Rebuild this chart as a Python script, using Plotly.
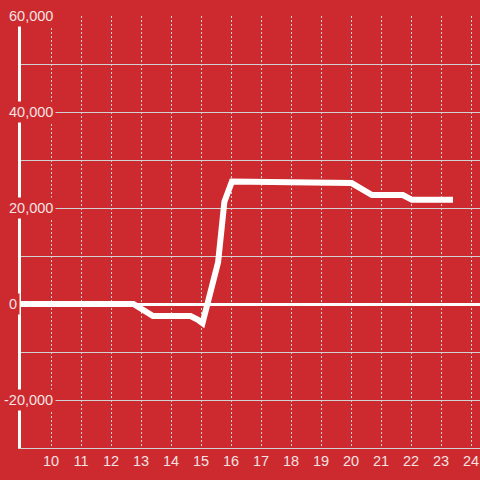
import plotly.graph_objects as go

# data
hours = [9.0, 12.75, 13.4, 14.65, 14.9, 15.05, 15.57, 15.78, 16.03, 18.7, 18.75, 20.02, 20.7, 21.73, 22.03, 23.4]
values = [0, 0, -2500, -2500, -3300, -4000, 8700, 21300, 25500, 25500, 25200, 25200, 22700, 22700, 21700, 21700]

x_ticks = list(range(10, 25))
y_label_values = [60000, 40000, 20000, 0, -20000]
y_labels = ["60,000", "40,000", "20,000", "0", "-20,000"]

BG = "#cc2a2f"
GRID = "#d2d2d2"
TXT = "#f4e2e2"
FONT = "Liberation Sans, Arial, sans-serif"

fig = go.Figure()
fig.add_trace(go.Scatter(
    x=hours, y=values, mode="lines",
    line=dict(color="white", width=6),
    hoverinfo="skip", showlegend=False,
))

annotations = []
for v, t in zip(y_label_values, y_labels):
    annotations.append(dict(
        xref="paper", yref="y", x=0, y=v, text=t,
        xanchor="left", yanchor="middle", showarrow=False,
        xshift=-15 - (5 if v < 0 else 0),
        font=dict(family=FONT, size=14.5, color=TXT),
        bgcolor=BG, borderpad=2,
    ))

fig.update_layout(
    width=480, height=480,
    margin=dict(l=21, r=0, t=16, b=32, autoexpand=False),
    paper_bgcolor=BG, plot_bgcolor=BG,
    font=dict(family=FONT, size=14.5, color=TXT),
    annotations=annotations,
    xaxis=dict(
        range=[9, 24.3], tickvals=x_ticks, ticktext=[str(t) for t in x_ticks],
        showgrid=True, gridcolor=GRID, gridwidth=1, griddash="2px,2px",
        zeroline=False, showline=True, linecolor=GRID, linewidth=1,
        ticks="", tickfont=dict(family=FONT, size=14.5, color=TXT),
        automargin=False,
    ),
    yaxis=dict(
        range=[-30000, 60000], dtick=10000, tick0=0,
        showgrid=True, gridcolor=GRID, gridwidth=1,
        zeroline=True, zerolinecolor="white", zerolinewidth=3,
        showline=True, linecolor="white", linewidth=3,
        showticklabels=False, ticks="", automargin=False,
    ),
)

fig.write_html("out.html", config={"displayModeBar": False},
               post_script="document.body.style.margin='0';")
